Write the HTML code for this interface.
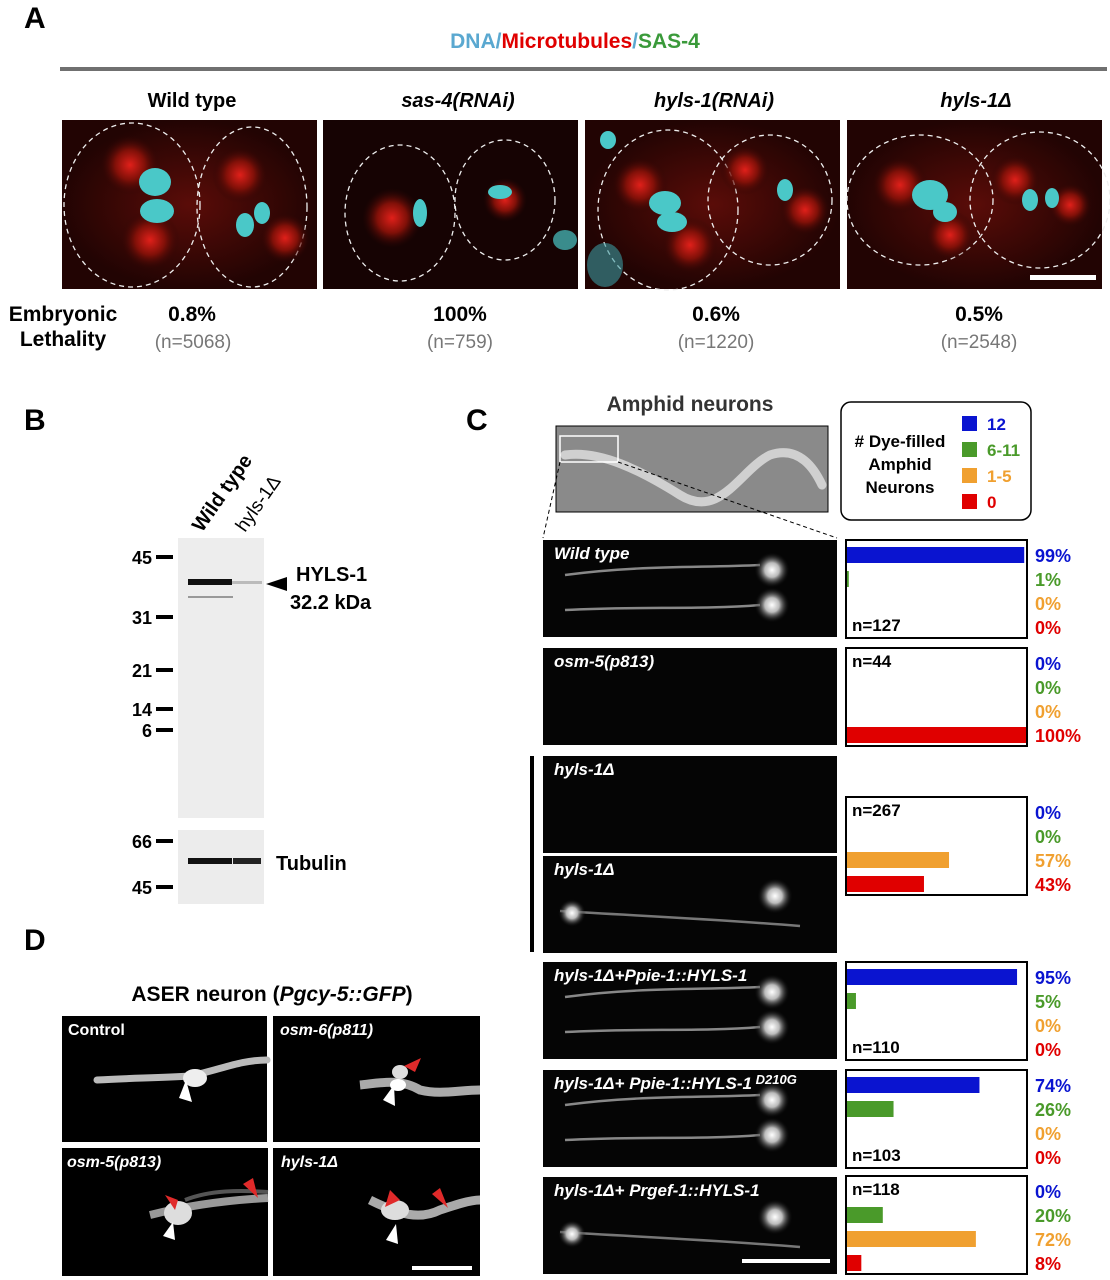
<!DOCTYPE html>
<html><head><meta charset="utf-8"><style>
html,body{margin:0;padding:0;background:#fff;}
svg{display:block;font-family:"Liberation Sans",Arial,sans-serif;font-weight:bold;}
</style></head><body>
<svg id="fig" width="1110" height="1280" viewBox="0 0 1110 1280" xmlns="http://www.w3.org/2000/svg">
<defs>
<radialGradient id="redglow"><stop offset="0" stop-color="#e0201a"/><stop offset="0.5" stop-color="#801008"/><stop offset="1" stop-color="#2a0504" stop-opacity="0"/></radialGradient>
<radialGradient id="wglow"><stop offset="0" stop-color="#fff"/><stop offset="0.4" stop-color="#bbb"/><stop offset="1" stop-color="#000" stop-opacity="0"/></radialGradient>
<radialGradient id="cellbg"><stop offset="0" stop-color="#5a0c08"/><stop offset="1" stop-color="#220403"/></radialGradient>
</defs>

<!-- Panel A -->
<text x="24" y="28" font-size="30">A</text>
<text x="575" y="48" font-size="21" text-anchor="middle"><tspan fill="#5aa8d0">DNA</tspan><tspan fill="#5aa8d0">/</tspan><tspan fill="#e00000">Microtubules</tspan><tspan fill="#5aa8d0">/</tspan><tspan fill="#3a9a3a">SAS-4</tspan></text>
<rect x="60" y="67" width="1047" height="4" fill="#707070"/>
<g font-size="20" text-anchor="middle">
<text x="192" y="107">Wild type</text>
<text x="458" y="107" font-style="italic">sas-4(RNAi)</text>
<text x="714" y="107" font-style="italic">hyls-1(RNAi)</text>
<text x="976" y="107" font-style="italic">hyls-1Δ</text>
</g>
<g>
<g><rect x="62" y="120" width="255" height="169" fill="url(#cellbg)"/>
<ellipse cx="132" cy="205" rx="68" ry="82" fill="none" stroke="#eee" stroke-dasharray="5,4" stroke-width="1.3"/>
<ellipse cx="252" cy="207" rx="55" ry="80" fill="none" stroke="#eee" stroke-dasharray="5,4" stroke-width="1.3"/>
<circle cx="130" cy="165" r="30" fill="url(#redglow)"/><circle cx="150" cy="240" r="30" fill="url(#redglow)"/><circle cx="240" cy="175" r="28" fill="url(#redglow)"/><circle cx="285" cy="238" r="25" fill="url(#redglow)"/>
<ellipse cx="155" cy="182" rx="16" ry="14" fill="#4ac8c8"/><ellipse cx="157" cy="211" rx="17" ry="12" fill="#4ac8c8"/><ellipse cx="245" cy="225" rx="9" ry="12" fill="#4ac8c8"/><ellipse cx="262" cy="213" rx="8" ry="11" fill="#4ac8c8"/></g>
<g><rect x="323" y="120" width="255" height="169" fill="#160303"/>
<ellipse cx="400" cy="213" rx="55" ry="68" fill="none" stroke="#eee" stroke-dasharray="5,4" stroke-width="1.3"/>
<ellipse cx="505" cy="200" rx="50" ry="60" fill="none" stroke="#eee" stroke-dasharray="5,4" stroke-width="1.3"/>
<circle cx="392" cy="218" r="30" fill="url(#redglow)"/><circle cx="505" cy="200" r="22" fill="url(#redglow)"/>
<ellipse cx="420" cy="213" rx="7" ry="14" fill="#4ac8c8"/><ellipse cx="500" cy="192" rx="12" ry="7" fill="#4ac8c8"/><ellipse cx="565" cy="240" rx="12" ry="10" fill="#4ac8c8" opacity="0.7"/></g>
<g><rect x="585" y="120" width="255" height="169" fill="url(#cellbg)"/>
<ellipse cx="668" cy="210" rx="70" ry="80" fill="none" stroke="#eee" stroke-dasharray="5,4" stroke-width="1.3"/>
<ellipse cx="770" cy="200" rx="62" ry="65" fill="none" stroke="#eee" stroke-dasharray="5,4" stroke-width="1.3"/>
<circle cx="640" cy="185" r="28" fill="url(#redglow)"/><circle cx="690" cy="245" r="28" fill="url(#redglow)"/><circle cx="745" cy="170" r="25" fill="url(#redglow)"/><circle cx="805" cy="210" r="25" fill="url(#redglow)"/>
<ellipse cx="665" cy="203" rx="16" ry="12" fill="#4ac8c8"/><ellipse cx="672" cy="222" rx="15" ry="10" fill="#4ac8c8"/><ellipse cx="785" cy="190" rx="8" ry="11" fill="#4ac8c8"/><ellipse cx="605" cy="265" rx="18" ry="22" fill="#3a9aa0" opacity="0.6"/><ellipse cx="608" cy="140" rx="8" ry="9" fill="#4ac8c8"/></g>
<g><rect x="847" y="120" width="255" height="169" fill="url(#cellbg)"/>
<ellipse cx="920" cy="200" rx="73" ry="65" fill="none" stroke="#eee" stroke-dasharray="5,4" stroke-width="1.3"/>
<ellipse cx="1040" cy="200" rx="70" ry="68" fill="none" stroke="#eee" stroke-dasharray="5,4" stroke-width="1.3"/>
<circle cx="900" cy="185" r="28" fill="url(#redglow)"/><circle cx="950" cy="235" r="25" fill="url(#redglow)"/><circle cx="1015" cy="180" r="25" fill="url(#redglow)"/><circle cx="1070" cy="205" r="22" fill="url(#redglow)"/>
<ellipse cx="930" cy="195" rx="18" ry="15" fill="#4ac8c8"/><ellipse cx="945" cy="212" rx="12" ry="10" fill="#4ac8c8"/><ellipse cx="1030" cy="200" rx="8" ry="11" fill="#4ac8c8"/><ellipse cx="1052" cy="198" rx="7" ry="10" fill="#4ac8c8"/>
<rect x="1030" y="275" width="66" height="5" fill="#fff"/></g>
</g>
<g text-anchor="middle">
<text x="63" y="321" font-size="21">Embryonic</text><text x="63" y="346" font-size="21">Lethality</text>
<text x="192" y="321" font-size="21">0.8%</text><text x="193" y="348" font-size="19" fill="#777" font-weight="normal">(n=5068)</text>
<text x="460" y="321" font-size="21">100%</text><text x="460" y="348" font-size="19" fill="#777" font-weight="normal">(n=759)</text>
<text x="716" y="321" font-size="21">0.6%</text><text x="716" y="348" font-size="19" fill="#777" font-weight="normal">(n=1220)</text>
<text x="979" y="321" font-size="21">0.5%</text><text x="979" y="348" font-size="19" fill="#777" font-weight="normal">(n=2548)</text>
</g>

<!-- Panel B -->
<text x="24" y="430" font-size="30">B</text>
<g font-size="20">
<text transform="translate(202,533) rotate(-55)">Wild type</text>
<text transform="translate(245,533) rotate(-55)" font-weight="normal" font-size="19">hyls-1Δ</text>
</g>
<g>
<rect x="178" y="538" width="86" height="280" fill="#ededed"/>
<rect x="188" y="579" width="44" height="6" fill="#111"/><rect x="232" y="581" width="30" height="3" fill="#bbb"/>
<rect x="188" y="596" width="45" height="2" fill="#999"/>
<rect x="178" y="830" width="86" height="74" fill="#ececec"/>
<rect x="188" y="858" width="44" height="6" fill="#111"/><rect x="233" y="858" width="28" height="6" fill="#222"/>
</g>
<g font-size="18" text-anchor="end">
<text x="152" y="564">45</text><rect x="156" y="555" width="17" height="4" fill="#000"/>
<text x="152" y="624">31</text><rect x="156" y="615" width="17" height="4" fill="#000"/>
<text x="152" y="677">21</text><rect x="156" y="668" width="17" height="4" fill="#000"/>
<text x="152" y="716">14</text><rect x="156" y="707" width="17" height="4" fill="#000"/>
<text x="152" y="737">6</text><rect x="156" y="728" width="17" height="4" fill="#000"/>
<text x="152" y="848">66</text><rect x="156" y="839" width="17" height="4" fill="#000"/>
<text x="152" y="894">45</text><rect x="156" y="885" width="17" height="4" fill="#000"/>
</g>
<polygon points="266,584 287,577 287,591" fill="#000"/>
<text x="296" y="581" font-size="20">HYLS-1</text>
<text x="290" y="609" font-size="20">32.2 kDa</text>
<text x="276" y="870" font-size="20">Tubulin</text>

<!-- Panel C -->
<text x="466" y="430" font-size="30">C</text>
<text x="690" y="411" font-size="21" text-anchor="middle" fill="#333">Amphid neurons</text>
<g>
<rect x="556" y="426" width="272" height="86" fill="#8a8a8a" stroke="#000"/>
<path d="M565,455 C600,450 640,470 680,495 C720,520 740,470 770,455 C800,445 815,470 822,485" fill="none" stroke="#d0d0d0" stroke-width="9" stroke-linecap="round"/>
<rect x="560" y="436" width="58" height="26" fill="none" stroke="#fff" stroke-width="1.5"/>
<line x1="560" y1="462" x2="543" y2="538" stroke="#000" stroke-dasharray="4,3"/>
<line x1="618" y1="462" x2="837" y2="538" stroke="#000" stroke-dasharray="4,3"/>
</g>
<g>
<rect x="841" y="402" width="190" height="118" rx="10" fill="#fff" stroke="#000" stroke-width="1.5"/>
<g font-size="17" text-anchor="middle"><text x="900" y="447"># Dye-filled</text><text x="900" y="470">Amphid</text><text x="900" y="493">Neurons</text></g>
<rect x="962" y="416" width="15" height="15" fill="#0a14d0"/><text x="987" y="430" font-size="17" fill="#0a14d0">12</text>
<rect x="962" y="442" width="15" height="15" fill="#4a9a2a"/><text x="987" y="456" font-size="17" fill="#4a9a2a">6-11</text>
<rect x="962" y="468" width="15" height="15" fill="#f0a030"/><text x="987" y="482" font-size="17" fill="#f0a030">1-5</text>
<rect x="962" y="494" width="15" height="15" fill="#e00000"/><text x="987" y="508" font-size="17" fill="#e00000">0</text>
</g>
<g id="neuronImages" font-size="17" font-style="italic" fill="#fff"></g>
<rect x="530" y="756" width="4" height="196" fill="#000"/>
<g id="bars"></g>
<rect x="742" y="1259" width="88" height="4" fill="#fff"/>

<!-- Panel D -->
<text x="24" y="950" font-size="30">D</text>
<text x="272" y="1001" font-size="21" text-anchor="middle">ASER neuron (<tspan font-style="italic">Pgcy-5::GFP</tspan>)</text>
<g font-size="16" fill="#fff">
<g><rect x="62" y="1016" width="205" height="126" fill="#000"/>
<path d="M97,1080 C130,1078 160,1078 190,1076 C220,1070 240,1060 267,1060" stroke="#bbb" stroke-width="7" fill="none" stroke-linecap="round"/>
<ellipse cx="195" cy="1078" rx="12" ry="9" fill="#eee"/>
<polygon points="186,1080 192,1102 179,1098" fill="#fff"/><text x="68" y="1035">Control</text></g>
<g><rect x="273" y="1016" width="207" height="126" fill="#000"/>
<path d="M360,1085 C380,1083 400,1078 420,1090 C440,1095 460,1090 480,1090" stroke="#aaa" stroke-width="9" fill="none"/>
<ellipse cx="400" cy="1072" rx="8" ry="7" fill="#ddd"/><ellipse cx="398" cy="1085" rx="8" ry="6" fill="#fff"/>
<polygon points="404,1066 421,1058 415,1072" fill="#e02a2a"/><polygon points="394,1085 395,1106 383,1100" fill="#fff"/>
<text x="280" y="1035" font-style="italic">osm-6(p811)</text></g>
<g><rect x="62" y="1148" width="206" height="128" fill="#000"/>
<path d="M150,1215 C190,1205 230,1200 268,1198" stroke="#999" stroke-width="8" fill="none"/>
<path d="M185,1200 C210,1190 240,1190 268,1192" stroke="#555" stroke-width="4" fill="none"/>
<ellipse cx="178" cy="1213" rx="14" ry="12" fill="#ddd"/>
<polygon points="178,1200 175,1210 165,1195" fill="#e02a2a"/>
<polygon points="243,1184 253,1178 258,1198" fill="#e02a2a"/><polygon points="173,1222 175,1240 163,1236" fill="#fff"/>
<text x="67" y="1167" font-style="italic">osm-5(p813)</text></g>
<g><rect x="273" y="1148" width="207" height="128" fill="#000"/>
<path d="M370,1200 C400,1215 420,1220 440,1210 C455,1205 470,1200 480,1200" stroke="#aaa" stroke-width="9" fill="none"/>
<ellipse cx="395" cy="1210" rx="14" ry="10" fill="#ddd"/>
<polygon points="385,1207 390,1190 400,1200" fill="#e02a2a"/><polygon points="432,1194 440,1188 448,1208" fill="#e02a2a"/>
<polygon points="396,1224 398,1244 386,1240" fill="#fff"/>
<text x="281" y="1167" font-style="italic">hyls-1Δ</text>
<rect x="412" y="1266" width="60" height="4" fill="#fff"/></g>
</g>
</svg>
<script>
// Dye-filling data (percent in classes: 12, 6-11, 1-5, 0)
var genotypes = ["Wild type","osm-5(p813)","hyls-1Δ","hyls-1Δ+Ppie-1::HYLS-1","hyls-1Δ+ Ppie-1::HYLS-1 D210G","hyls-1Δ+ Prgef-1::HYLS-1"];
var pct12 = [99, 0, 0, 95, 74, 0];
var pct6to11 = [1, 0, 0, 5, 26, 20];
var pct1to5 = [0, 0, 57, 0, 0, 72];
var pct0 = [0, 100, 43, 0, 0, 8];
var nLabels = ["n=127","n=44","n=267","n=110","n=103","n=118"];
var nAtTop = [false, true, true, false, false, true];

(function(){
var NS = "http://www.w3.org/2000/svg";
var boxTops = [540, 648, 797, 962, 1070, 1176];
var boxH = 98, boxX = 846, boxW = 181;
var colors = ["#0a14d0","#4a9a2a","#f0a030","#e00000"];
function xScale(v){ return v / 100 * 179; }
function mk(tag, attrs, parent){ var e=document.createElementNS(NS,tag); for(var k in attrs) e.setAttribute(k, attrs[k]); parent.appendChild(e); return e; }
var bars = document.getElementById("bars");
for (var r = 0; r < genotypes.length; r++) {
  var bt = boxTops[r];
  var box = mk("rect",{x:boxX,y:bt,width:boxW,height:boxH,fill:"#fff",stroke:"#000","stroke-width":2},bars);
  
  
  var vals = [pct12[r], pct6to11[r], pct1to5[r], pct0[r]];
  for (var i = 0; i < 4; i++) {
    var cy = bt + 15 + i * 24;
    if (vals[i] > 0) {
      var b = mk("rect",{x:boxX+1,y:cy-8,width:Math.max(xScale(vals[i]),1.5),height:16,fill:colors[i]},bars);
      
      
    }
    var t = mk("text",{x:1035,y:cy+7,"font-size":18,fill:colors[i]},bars);
    t.textContent = vals[i] + "%";
    
    
  }
  var nt = mk("text",{x:852,y:nAtTop[r] ? bt+19 : bt+91,"font-size":17,fill:"#000"},bars);
  nt.textContent = nLabels[r];
  
  
}
var imgs = document.getElementById("neuronImages");
var imgRows = [[540,"Wild type",true,true],[648,"osm-5(p813)",false,false],[756,"hyls-1Δ",false,false],[856,"hyls-1Δ",true,false],[962,"hyls-1Δ+Ppie-1::HYLS-1",true,true],[1070,"hyls-1Δ+ Ppie-1::HYLS-1",true,true],[1177,"hyls-1Δ+ Prgef-1::HYLS-1",true,false]];
for (var k = 0; k < imgRows.length; k++) {
  var yy = imgRows[k][0];
  var g = mk("g",{},imgs);
  
  
  mk("rect",{x:543,y:yy,width:294,height:97,fill:"#050505"},g);
  if (imgRows[k][2]) {
    if (imgRows[k][3]) {
      mk("path",{d:"M565,"+(yy+35)+" C640,"+(yy+25)+" 700,"+(yy+28)+" 760,"+(yy+25),stroke:"#888","stroke-width":2.5,fill:"none"},g);
      mk("path",{d:"M565,"+(yy+70)+" C640,"+(yy+66)+" 700,"+(yy+70)+" 760,"+(yy+65),stroke:"#888","stroke-width":2.5,fill:"none"},g);
      mk("circle",{cx:772,cy:yy+30,r:18,fill:"url(#wglow)"},g);
      mk("circle",{cx:772,cy:yy+65,r:18,fill:"url(#wglow)"},g);
    } else {
      mk("path",{d:"M560,"+(yy+55)+" C640,"+(yy+60)+" 700,"+(yy+62)+" 800,"+(yy+70),stroke:"#777","stroke-width":2.5,fill:"none"},g);
      mk("circle",{cx:775,cy:yy+40,r:18,fill:"url(#wglow)"},g);
      mk("circle",{cx:572,cy:yy+57,r:14,fill:"url(#wglow)"},g);
    }
  }
  var tx = mk("text",{x:554,y:yy+19},g);
  tx.textContent = imgRows[k][1];
  if (k === 5) { var sp = mk("tspan",{"font-size":13,dy:-5},tx); sp.textContent = " D210G"; }
}
})();
</script>
</body></html>
